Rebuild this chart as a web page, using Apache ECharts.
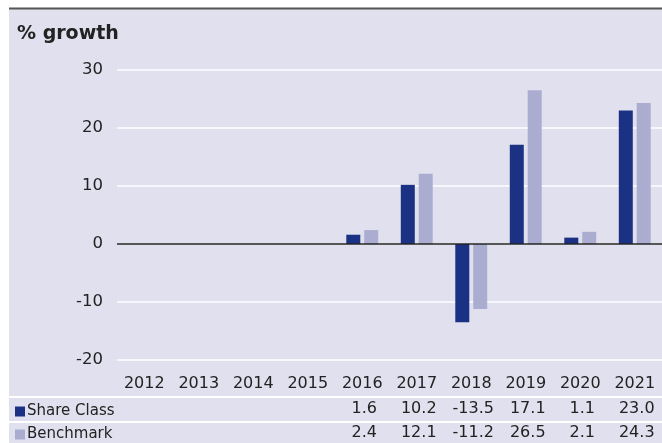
<!DOCTYPE html>
<html>
<head>
<meta charset="utf-8">
<script src="https://cdn.jsdelivr.net/npm/echarts@6/dist/echarts.min.js"></script>
<style>
html,body{margin:0;padding:0;background:#fff;}
#chart{width:662px;height:443px;}
</style>
</head>
<body>
<div id="chart"></div>
<script>
var years = ['2012','2013','2014','2015','2016','2017','2018','2019','2020','2021'];
var shareClass = [null,null,null,null,1.6,10.2,-13.5,17.1,1.1,23.0];
var benchmark = [null,null,null,null,2.4,12.1,-11.2,26.5,2.1,24.3];
var yTicks = [-20,-10,0,10,20,30];

var FONT = 'DejaVu Sans';
var TXT = '#222222';
var C1 = '#1b3284';
var C2 = '#aaadd0';
var BG = '#e0e0ee';

function fmt(arr){
  return function(v, i){ var x = arr[i]; return x == null ? '' : x.toFixed(1); };
}
function rowAxis(arr, offset){
  return {
    type:'category', data: years, position:'bottom', offset: offset,
    axisLine:{show:false}, axisTick:{show:false}, splitLine:{show:false},
    axisLabel:{interval:0, margin:16, formatter: fmt(arr),
      fontFamily:FONT, fontSize:16, color:TXT, padding:[0,0,0,4]}
  };
}
function legendItem(name, top){
  return {orient:'horizontal', left:10, top:top, itemWidth:10, itemHeight:10,
    icon:'rect', textStyle:{fontFamily:FONT, fontSize:15, color:TXT, padding:[0,0,0,-3]},
    data:[name]};
}

var chart = echarts.init(document.getElementById('chart'));
chart.setOption({
  backgroundColor:'#ffffff',
  animation:false,
  graphic:[
    {type:'rect', shape:{x:9,y:9,width:653,height:434}, style:{fill:BG}, z:-10},
    {type:'line', shape:{x1:9,y1:8.5,x2:662,y2:8.5}, style:{stroke:'#555555', lineWidth:2}},
    {type:'line', shape:{x1:9,y1:397,x2:662,y2:397}, style:{stroke:'#ffffff', lineWidth:2}},
    {type:'line', shape:{x1:9,y1:422,x2:662,y2:422}, style:{stroke:'#ffffff', lineWidth:2}}
  ],
  title:{text:'% growth', left:12, top:20,
    textStyle:{fontFamily:FONT, fontWeight:'bold', fontSize:19, color:TXT}},
  legend:[legendItem('Share Class', 399), legendItem('Benchmark', 422)],
  grid:{left:117, right:-2, top:70, bottom:83, containLabel:false},
  xAxis:[
    {type:'category', data:years, position:'bottom',
      axisLine:{show:false}, axisTick:{show:false},
      axisLabel:{interval:0, margin:16, fontFamily:FONT, fontSize:16, color:TXT}},
    rowAxis(shareClass, 25),
    rowAxis(benchmark, 49)
  ],
  yAxis:{type:'value', min:-20, max:30, interval:10,
    axisLine:{show:false}, axisTick:{show:false},
    axisLabel:{margin:14, fontFamily:FONT, fontSize:16.5, color:TXT},
    splitLine:{lineStyle:{color:'#ffffff', width:1.5}}},
  series:[
    {name:'Share Class', type:'bar', data:shareClass, barWidth:14, barGap:'28%',
      itemStyle:{color:C1},
      markLine:{silent:true, symbol:'none', label:{show:false},
        lineStyle:{color:'#222222', width:1.5, type:'solid'}, data:[{yAxis:0}]}},
    {name:'Benchmark', type:'bar', data:benchmark, barWidth:14, barGap:'28%',
      itemStyle:{color:C2}}
  ]
});
</script>
</body>
</html>
